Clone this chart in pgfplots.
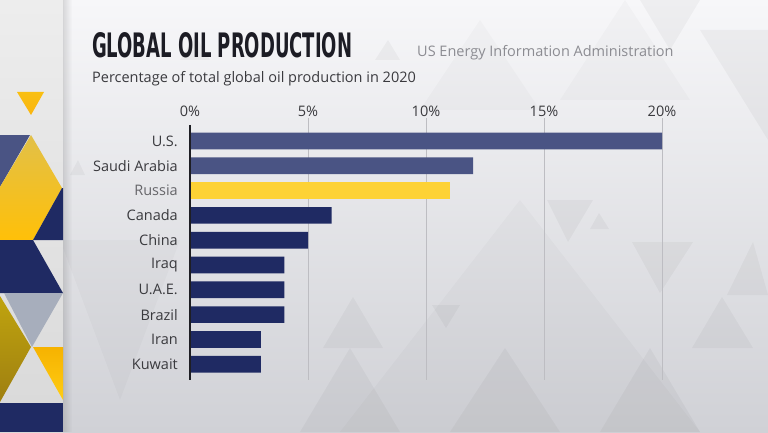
\documentclass[border=0pt]{standalone}
\usepackage{fontspec}
\setmainfont{Open Sans}
\newfontfamily\titlefont{DejaVu Sans Condensed Bold}
\usepackage{graphicx}
\usepackage{pgfplots}
\usepackage{pgfplotstable}
\pgfplotsset{compat=1.18}
\usetikzlibrary{fadings}

\definecolor{bgtop}{HTML}{F7F7F9}
\definecolor{bgmid}{HTML}{EDEDF0}
\definecolor{bgbot}{HTML}{D0D1D6}
\definecolor{slate}{HTML}{4A5484}
\definecolor{navy}{HTML}{1F2A63}
\definecolor{sunny}{HTML}{FDD235}
\definecolor{gridc}{HTML}{BDBDC2}
\definecolor{zeroc}{HTML}{1E1E24}
\definecolor{labc}{HTML}{3A3A3E}
\definecolor{russc}{HTML}{66666A}
\definecolor{srcc}{HTML}{8C8C92}
\definecolor{titc}{HTML}{1C1C24}
\definecolor{olive}{HTML}{B08D12}
\definecolor{greyblue}{HTML}{A7AEBC}
\definecolor{gold}{HTML}{F9BF12}

\pgfplotstableread{
i v
0 20
1 12
}\slatedata
\pgfplotstableread{
i v
2 11
}\russiadata
\pgfplotstableread{
i v
3 6
4 5
5 4
6 4
7 4
8 3
9 3
}\navydata

\begin{document}
\begin{tikzpicture}[x=1pt,y=1pt]
\useasboundingbox (0,0) rectangle (768,432);
\shade[top color=bgtop, middle color=bgmid, bottom color=bgbot] (0,0) rectangle (768,432);
\begin{scope}[yshift=432pt, yscale=-1]
  % faint background triangles
  \begin{scope}[fill=black, opacity=0.035]
    \fill (547,200)--(593,200)--(568,242)--cycle;
    \fill (590,229)--(609,229)--(599,213)--cycle;
    \fill (632,242)--(693,242)--(660,293)--cycle;
    \fill (727,295)--(768,295)--(753,242)--cycle;
    \fill (692,348)--(753,348)--(722,297)--cycle;
    \fill (323,348)--(383,348)--(353,297)--cycle;
    \fill (432,305)--(460,305)--(446,328)--cycle;
    \fill (700,30)--(768,30)--(768,140)--cycle;
    \fill (640,0)--(700,0)--(670,50)--cycle;
    \fill (180,60)--(210,60)--(195,35)--cycle;
    \fill (375,60)--(400,60)--(388,40)--cycle;
    \fill (70,175)--(85,175)--(78,160)--cycle;
    \fill (300,432)--(400,432)--(350,348)--cycle;
    \fill (450,432)--(560,432)--(505,348)--cycle;
    \fill (600,432)--(700,432)--(650,348)--cycle;
  \end{scope}
  \begin{scope}[fill=black, opacity=0.02]
    \fill (60,240)--(180,240)--(120,400)--cycle;
    \fill (420,110)--(540,110)--(480,20)--cycle;
    \fill (560,100)--(690,100)--(625,0)--cycle;
    \fill (520,200)--(700,432)--(340,432)--cycle;
  \end{scope}
  % left strip
  \shade[top color=white!93!black, bottom color=white!85!black] (0,0) rectangle (63,432);
  \shade[top color=gold, bottom color=gold!85!orange] (17,92)--(44,92)--(31,115)--cycle;
  \fill[slate] (0,135)--(30,135)--(0,187)--cycle;
  \shade[top color={rgb,255:red,226;green,192;blue,72}, bottom color={rgb,255:red,255;green,192;blue,8}] (31,135)--(62,188)--(33,240)--(0,240)--(0,187)--cycle;
  \fill[navy] (62,188)--(63,188)--(63,240)--(33,240)--cycle;
  \fill[navy] (0,240)--(33,240)--(63,293)--(0,293)--cycle;
  \fill[greyblue] (4,293)--(63,293)--(32,347)--cycle;
  \shade[top color=olive!80!yellow, bottom color=olive!90!black] (0,296)--(31,347)--(0,402)--cycle;
  \shade[top color={rgb,255:red,246;green,178;blue,0}, bottom color={rgb,255:red,255;green,205;blue,20}] (33,347)--(63,347)--(63,400)--cycle;
  \fill[navy] (0,403)--(63,403)--(63,432)--(0,432)--cycle;
  % texts
  \node[anchor=base west, inner sep=0pt, text=titc] at (92,58)
    {\resizebox{260pt}{25pt}{\titlefont GLOBAL OIL PRODUCTION}};
  \node[anchor=base west, inner sep=0pt, text=labc, font=\fontsize{14.5}{17}\selectfont] at (92,82.5)
    {Percentage of total global oil production in 2020};
  \node[anchor=base west, inner sep=0pt, text=srcc, font=\fontsize{14.5}{17}\selectfont] at (417,57)
    {US Energy Information Administration};
\end{scope}
\fill[black, path fading=east, opacity=0.12] (63,0) rectangle (72,432);

\begin{axis}[
  at={(190pt,52pt)}, anchor=south west,
  width=472pt, height=262pt, scale only axis,
  xmin=0, xmax=20, ymin=-0.927, ymax=9.637, y dir=reverse,
  xbar, bar width=16.7pt,
  axis line style={draw=none},
  major tick length=0pt,
  xtick={5,10,15,20}, xticklabels={5\%,10\%,15\%,20\%},
  extra x ticks={0}, extra x tick labels={0\%},
  extra x tick style={grid=none},
  xticklabel pos=upper,
  xmajorgrids, grid style={color=gridc, line width=0.8pt},
  ytick={0,...,9},
  yticklabels={U.S., Saudi Arabia, \textcolor{russc}{Russia}, Canada, China, Iraq, U.A.E., Brazil, Iran, Kuwait},
  tick label style={font=\fontsize{14.5}{17}\selectfont, text=labc},
  xticklabel style={inner sep=0pt, yshift=1pt},
  yticklabel style={inner sep=0pt, xshift=-12pt},
  clip=false,
]
\addplot[fill=slate, draw=none, bar shift=0pt] table[x=v, y=i] {\slatedata};
\addplot[fill=sunny, draw=none, bar shift=0pt] table[x=v, y=i] {\russiadata};
\addplot[fill=navy, draw=none, bar shift=0pt] table[x=v, y=i] {\navydata};
\draw[color=zeroc, line width=1.3pt] (axis cs:0,-0.645) -- (axis cs:0,9.637);
\end{axis}
\end{tikzpicture}
\end{document}
